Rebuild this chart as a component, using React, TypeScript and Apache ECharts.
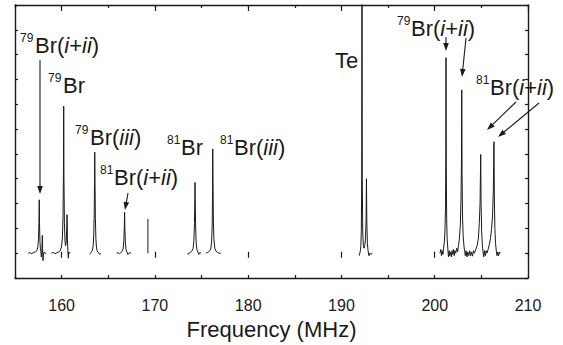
import React, { useEffect, useRef } from "react";
import * as echarts from "echarts";

// ---- data (frequency MHz, signal in arbitrary units) ----
const seg79a: number[][] = [
  [156.42, 0.0], [156.6, 0.02], [156.8, -0.02], [157.0, 0.03], [157.2, 0.05], [157.35, 0.1],
  [157.45, 0.25], [157.52, 0.6], [157.57, 1.3], [157.6, 2.15], [157.63, 1.2], [157.67, 0.5],
  [157.72, 0.2], [157.78, 0.05], [157.82, -0.15], [157.86, -0.05], [157.9, 0.3], [157.93, 0.72],
  [157.96, 0.2], [158.0, -0.3], [158.05, 0.0], [158.15, 0.05], [158.25, -0.02], [158.35, 0.0],
];
const seg79b: number[][] = [
  [158.9, 0.0], [159.1, 0.03], [159.3, -0.02], [159.5, 0.02], [159.7, 0.05], [159.85, 0.1],
  [159.98, 0.25], [160.08, 0.6], [160.15, 1.5], [160.2, 3.5], [160.22, 5.93], [160.25, 3.0],
  [160.3, 1.2], [160.36, 0.5], [160.42, 0.3], [160.48, 0.4], [160.54, 0.9], [160.58, 1.55],
  [160.62, 0.6], [160.68, 0.0], [160.72, -0.2], [160.77, 0.05], [160.85, 0.0], [160.92, 0.02],
];
const seg79c: number[][] = [
  [163.02, -0.05], [163.1, 0.0], [163.2, 0.05], [163.3, 0.12], [163.38, 0.3], [163.44, 0.7],
  [163.49, 1.6], [163.53, 3.0], [163.55, 4.07], [163.58, 2.8], [163.62, 1.4], [163.67, 0.6],
  [163.73, 0.25], [163.8, 0.1], [163.9, 0.03], [164.0, 0.0], [164.1, -0.05], [164.2, 0.0],
];
const seg81a: number[][] = [
  [165.9, 0.0], [166.05, 0.02], [166.2, -0.02], [166.35, 0.03], [166.5, 0.08], [166.6, 0.2],
  [166.67, 0.5], [166.72, 1.1], [166.75, 1.65], [166.78, 1.0], [166.83, 0.45], [166.9, 0.15],
  [167.0, 0.05], [167.1, -0.05], [167.2, 0.0], [167.3, 0.02], [167.45, 0.0],
];
const segMark: number[][] = [[169.25, 0.0], [169.25, 1.38]];
const seg81b: number[][] = [
  [173.5, 0.0], [173.6, -0.05], [173.7, 0.02], [173.85, 0.05], [174.0, 0.1], [174.1, 0.2],
  [174.18, 0.5], [174.24, 1.2], [174.28, 2.2], [174.3, 2.85], [174.33, 2.0], [174.37, 1.0],
  [174.43, 0.4], [174.5, 0.15], [174.6, 0.05], [174.7, -0.05], [174.8, 0.02], [174.95, 0.0],
];
const seg81c: number[][] = [
  [175.48, 0.0], [175.6, 0.02], [175.75, 0.05], [175.9, 0.1], [176.0, 0.2], [176.08, 0.45],
  [176.14, 1.1], [176.18, 2.5], [176.2, 4.2], [176.23, 2.8], [176.27, 1.3], [176.33, 0.55],
  [176.42, 0.2], [176.55, 0.08], [176.7, 0.03], [176.85, 0.0], [177.05, 0.0],
];
const segTe: number[][] = [
  [191.9, -0.1], [191.97, 0.0], [192.03, 0.1], [192.08, 0.3], [192.13, 0.9], [192.17, 3.0],
  [192.2, 14.0], [192.23, 3.0], [192.28, 0.9], [192.35, 0.3], [192.42, 0.2], [192.5, 0.3],
  [192.58, 0.6], [192.64, 1.4], [192.68, 3.0], [192.72, 1.3], [192.78, 0.4], [192.85, 0.1],
  [192.95, -0.1], [193.05, 0.0], [193.15, -0.05], [193.3, 0.0],
];
const segHigh: number[][] = [
  [200.56, 0.0], [200.65, 0.15], [200.72, -0.1], [200.8, 0.1], [200.88, -0.05], [200.95, 0.2],
  [201.02, 0.4], [201.1, 0.9], [201.16, 2.0], [201.19, 4.0], [201.21, 7.88], [201.24, 3.5],
  [201.28, 1.4], [201.33, 0.6], [201.4, 0.2], [201.47, -0.15], [201.55, 0.1], [201.62, -0.1],
  [201.7, 0.05], [201.78, -0.15], [201.86, 0.1], [201.93, -0.05], [202.0, 0.15], [202.08, -0.1],
  [202.15, 0.1], [202.25, 0.0], [202.35, 0.2], [202.45, 0.05], [202.55, 0.3], [202.65, 0.6],
  [202.75, 1.2], [202.82, 2.2], [202.87, 3.8], [202.9, 6.58], [202.93, 3.2], [202.98, 1.5],
  [203.05, 0.7], [203.13, 0.3], [203.2, 0.1], [203.28, -0.1], [203.36, 0.1], [203.45, -0.15],
  [203.55, 0.05], [203.65, -0.1], [203.75, 0.1], [203.85, -0.1], [203.95, 0.05], [204.05, -0.12],
  [204.15, 0.1], [204.25, 0.0], [204.4, 0.15], [204.55, 0.3], [204.68, 0.6], [204.78, 1.2],
  [204.86, 2.0], [204.93, 3.98], [204.97, 2.0], [205.03, 0.9], [205.1, 0.35], [205.18, 0.05],
  [205.25, -0.15], [205.33, 0.1], [205.42, -0.1], [205.5, 0.1], [205.6, 0.0], [205.72, 0.15],
  [205.85, 0.35], [205.98, 0.6], [206.1, 1.0], [206.2, 1.5], [206.28, 2.5], [206.35, 4.49],
  [206.39, 2.3], [206.45, 1.0], [206.52, 0.4], [206.6, 0.1], [206.68, -0.1], [206.76, 0.05],
  [206.85, -0.1], [206.95, 0.05], [207.06, 0.0],
];
const segments = [seg79a, seg79b, seg79c, seg81a, segMark, seg81b, seg81c, segTe, segHigh];

const xMin = 155;
const xMax = 210;
const xMajorTicks = [160, 170, 180, 190, 200, 210];

// annotation labels: [superscript, main (rich), supLeft, mainLeft, baseline]
const labels: [string, string, number, number, number][] = [
  ["79", "{n|Br(}{i|i}{n|+}{i|ii}{n|)}", 20, 35, 53],
  ["79", "{n|Br}", 48, 63, 93],
  ["79", "{n|Br(}{i|iii}{n|)}", 75, 90, 145],
  ["81", "{n|Br(}{i|i}{n|+}{i|ii}{n|)}", 100, 114, 185],
  ["81", "{n|Br}", 167, 181, 155],
  ["81", "{n|Br(}{i|iii}{n|)}", 220, 234, 155],
  ["", "{n|Te}", 0, 335, 68],
  ["79", "{n|Br(}{i|i}{n|+}{i|ii}{n|)}", 397, 411, 36],
  ["81", "{n|Br(}{i|i}{n|+}{i|ii}{n|)}", 476, 490, 95],
];

// arrows: [x1, y1, xTip, yTip] in pixels
const arrows: number[][] = [
  [40, 60, 40, 194],
  [128, 193, 125, 210],
  [446, 37, 446, 51],
  [466, 38, 462, 77],
  [516, 102, 487, 130],
  [539, 103, 498, 137],
];

const FONT = "'Liberation Sans', Arial, Helvetica, sans-serif";
const INK = "#1a1a1a";

export default function App() {
  const ref = useRef<HTMLDivElement>(null);
  useEffect(() => {
    if (!ref.current) return;
    const chart = echarts.init(ref.current, undefined, { renderer: "svg" });
    const W = 563, left = 15, right = 35, top = 5, bottom = 62;
    const plotW = W - left - right;
    const left2 = left + ((xMajorTicks[0] - xMin) * plotW) / (xMax - xMin);
    const axisLine = { show: true, onZero: false, lineStyle: { color: INK, width: 1.4 } };
    const tickStyle = { color: INK, width: 1.2 };

    const graphic: any[] = [];
    labels.forEach(([sup, main, sx, mx, base]) => {
      if (sup) {
        graphic.push({
          type: "text", x: sx, y: base - 15, z: 10,
          style: { text: sup, fontSize: 12, fontFamily: FONT, fill: INK, verticalAlign: "middle", align: "left" },
        });
      }
      graphic.push({
        type: "text", x: mx, y: base - 7.6, z: 10,
        style: {
          text: main, fontSize: 22, fontFamily: FONT, fill: INK, verticalAlign: "middle", align: "left",
          rich: {
            n: { fontSize: 22, fontFamily: FONT, fill: INK },
            i: { fontSize: 22, fontFamily: FONT, fill: INK, fontStyle: "italic" },
          },
        },
      });
    });
    arrows.forEach(([x1, y1, x2, y2]) => {
      const dx = x2 - x1, dy = y2 - y1;
      const len = Math.sqrt(dx * dx + dy * dy);
      const ux = dx / len, uy = dy / len;
      const hl = 8, hw = 2.8;
      const bx = x2 - ux * hl, by = y2 - uy * hl;
      graphic.push({
        type: "line", z: 10,
        shape: { x1, y1, x2: bx + ux * 1, y2: by + uy * 1 },
        style: { stroke: INK, lineWidth: 1.1 },
      });
      graphic.push({
        type: "polygon", z: 10,
        shape: { points: [[x2, y2], [bx - uy * hw, by + ux * hw], [bx + uy * hw, by - ux * hw]] },
        style: { fill: INK },
      });
    });

    chart.setOption({
      animation: false,
      grid: [
        { left, right, top, bottom },
        { left: left2, right, top, bottom },
      ],
      xAxis: [
        {
          type: "value", gridIndex: 0, min: xMin, max: xMax, interval: 5, position: "bottom",
          axisLine, axisTick: { inside: true, length: 3, lineStyle: tickStyle },
          axisLabel: { show: false }, splitLine: { show: false },
          name: "Frequency (MHz)", nameLocation: "middle", nameGap: 40,
          nameTextStyle: { fontSize: 22, fontFamily: FONT, color: INK },
        },
        {
          type: "value", gridIndex: 0, min: xMin, max: xMax, interval: 5, position: "top",
          axisLine, axisTick: { inside: true, length: 3, lineStyle: tickStyle },
          axisLabel: { show: false }, splitLine: { show: false },
        },
        {
          type: "value", gridIndex: 1, min: xMajorTicks[0], max: xMajorTicks[xMajorTicks.length - 1],
          interval: 10, position: "bottom",
          axisLine: { show: false }, axisTick: { inside: true, length: 6, lineStyle: tickStyle },
          axisLabel: { show: true, margin: 14, fontSize: 16, fontFamily: FONT, color: INK },
          splitLine: { show: false },
        },
        {
          type: "value", gridIndex: 1, min: xMajorTicks[0], max: xMajorTicks[xMajorTicks.length - 1],
          interval: 10, position: "top",
          axisLine: { show: false }, axisTick: { inside: true, length: 6, lineStyle: tickStyle },
          axisLabel: { show: false }, splitLine: { show: false },
        },
      ],
      yAxis: [
        {
          type: "value", gridIndex: 0, min: -1, max: 10, interval: 1, position: "left",
          axisLine, axisTick: { show: true, inside: true, length: 3, lineStyle: tickStyle },
          axisLabel: { show: false }, splitLine: { show: false },
        },
        {
          type: "value", gridIndex: 0, min: -1, max: 10, interval: 1, position: "right",
          axisLine, axisTick: { show: true, inside: true, length: 3, lineStyle: tickStyle },
          axisLabel: { show: false }, splitLine: { show: false },
        },
        { type: "value", gridIndex: 1, min: -1, max: 10, show: false },
      ],
      series: segments.map((seg) => ({
        type: "line", xAxisIndex: 0, yAxisIndex: 0, data: seg,
        symbol: "none", showSymbol: false, clip: true,
        lineStyle: { color: INK, width: 1 },
      })),
      graphic,
    });
    return () => chart.dispose();
  }, []);
  return <div ref={ref} style={{ width: 563, height: 345, position: "absolute", left: 0, top: 0 }} />;
}
